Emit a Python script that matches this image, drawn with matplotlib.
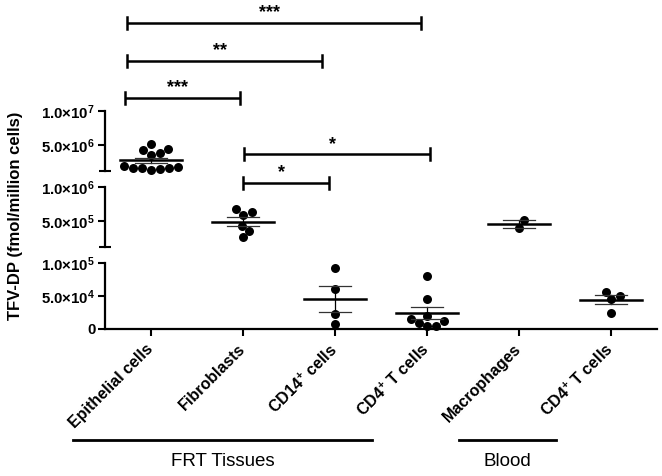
import numpy as np
import matplotlib
matplotlib.use('Agg')
import matplotlib.pyplot as plt
import matplotlib.transforms as mtransforms

plt.rcParams['font.family'] = ['Liberation Sans', 'DejaVu Sans']
plt.rcParams['mathtext.default'] = 'regular'

# ---------------- data ----------------
categories = ['Epithelial cells', 'Fibroblasts', 'CD14$^{+}$ cells',
              'CD4$^{+}$ T cells', 'Macrophages', 'CD4$^{+}$ T cells']
epithelial = [4.4e6, 3.8e6, 3.6e6, 4.2e6, 5.2e6, 1.8e6, 1.7e6, 1.5e6, 1.6e6, 1.4e6, 1.7e6, 1.9e6]
fibroblasts = [6.3e5, 5.85e5, 6.7e5, 4.3e5, 3.55e5, 2.6e5]
cd14_frt = [9.3e4, 6.0e4, 2.2e4, 7.6e3]
cd4_frt = [8.1e4, 4.5e4, 1.97e4, 1.47e4, 1.26e4, 8.6e3, 4.5e3, 5.0e3]
macrophages = [5.1e5, 4.0e5]
cd4_blood = [5.0e4, 4.55e4, 5.65e4, 2.47e4]
groups = [epithelial, fibroblasts, cd14_frt, cd4_frt, macrophages, cd4_blood]

segment_limits = [(1.2e6, 1e7), (1.2e5, 1e6), (0, 1e5)]
segment_ticks = [[5e6, 1e7], [5e5, 1e6], [0, 5e4, 1e5]]
segment_ticklabels = [['5.0×10$^{6}$', '1.0×10$^{7}$'],
                      ['5.0×10$^{5}$', '1.0×10$^{6}$'],
                      ['0', '5.0×10$^{4}$', '1.0×10$^{5}$']]

# significance brackets: (from, to, height in top-axes fraction, label)
brackets = [(-0.26, 2.935, 2.46, '***'),
            (-0.26, 1.86, 1.83, '**'),
            (-0.283, 0.967, 1.216, '***'),
            (1.01, 3.03, 0.277, '*'),
            (1.0, 1.935, -0.194, '*')]
group_labels = ['FRT Tissues', 'Blood']
group_spans = [(-0.848, 2.40), (3.35, 4.40)]
ylabel = 'TFV-DP (fmol/million cells)'

# ---------------- layout ----------------
W, H = 662, 476
fig = plt.figure(figsize=(W / 100, H / 100), dpi=100)
left, right = 105, 657
seg_px = [(110.7, 171.0), (186.7, 246.7), (263.0, 329.0)]
axes = []
for (t, b) in seg_px:
    ax = fig.add_axes([left / W, 1 - b / H, (right - left) / W, (b - t) / H])
    axes.append(ax)

for i, ax in enumerate(axes):
    ax.set_xlim(-0.5, len(categories) - 0.5)
    ax.set_ylim(*segment_limits[i])
    for s in ['top', 'right']:
        ax.spines[s].set_visible(False)
    ax.spines['left'].set_linewidth(1.6)
    ax.set_yticks(segment_ticks[i])
    ax.set_yticklabels(segment_ticklabels[i], fontsize=10.8, fontweight='bold')
    ax.tick_params(axis='y', which='major', length=5, width=1.5, direction='out', pad=2)
    ax.patch.set_alpha(0)
    if i < 2:
        ax.spines['bottom'].set_visible(False)
        ax.set_xticks([])
        ax.set_yticks([segment_limits[i][0]], minor=True)
        ax.tick_params(axis='y', which='minor', length=8, width=1.5, direction='inout')
    else:
        ax.spines['bottom'].set_linewidth(1.6)
        ax.set_xticks(range(len(categories)))
        ax.set_xticklabels(categories, rotation=45, ha='right', va='center',
                           rotation_mode='anchor', fontsize=11.5, fontweight='bold')
        ax.tick_params(axis='x', length=5, width=1.5, direction='out', pad=8)


def seg_of(v):
    for i, (lo, hi) in enumerate(segment_limits):
        if lo <= v <= hi:
            return i
    return int(np.argmin([min(abs(v - lo), abs(v - hi)) for lo, hi in segment_limits]))


def swarm(ypix, d):
    order = np.argsort(ypix)
    placed = []
    offs = np.zeros(len(ypix))
    for i in order:
        y = ypix[i]
        found = None
        step = 0
        while found is None:
            cands = [0.0] if step == 0 else [step * 0.5, -step * 0.5]
            for c in cands:
                if all((c - px) ** 2 + (y - py) ** 2 >= d * d for px, py in placed):
                    found = c
                    break
            step += 1
        offs[i] = found
        placed.append((found, y))
    return offs


diam = 8.8
px_per_unit = (right - left) / len(categories)
for gi, vals in enumerate(groups):
    vals = np.asarray(vals, float)
    segs = [seg_of(v) for v in vals]
    ypix = np.array([axes[s].transData.transform((gi, v))[1] for s, v in zip(segs, vals)])
    offs = swarm(ypix, diam) / px_per_unit
    for s, v, o in zip(segs, vals, offs):
        axes[s].scatter(gi + o, v, s=42, color='black', zorder=3, clip_on=False, linewidths=0)
    m = vals.mean()
    sem = vals.std(ddof=1) / np.sqrt(len(vals))
    ax = axes[seg_of(m)]
    ax.plot([gi - 0.34, gi + 0.34], [m, m], color='black', lw=1.8, zorder=4, clip_on=False)
    ax.plot([gi, gi], [m - sem, m + sem], color='black', lw=0.9, zorder=4, clip_on=False)
    for e in (m - sem, m + sem):
        ax.plot([gi - 0.17, gi + 0.17], [e, e], color='#333333', lw=0.9, zorder=4, clip_on=False)

# brackets
axt = axes[0]
btr = mtransforms.blended_transform_factory(axt.transData, axt.transAxes)
cap = 6 / (seg_px[0][1] - seg_px[0][0])
for x0, x1, y, lab in brackets:
    axt.plot([x0, x1], [y, y], color='black', lw=1.8, transform=btr, clip_on=False,
             solid_capstyle='butt')
    for x in (x0, x1):
        axt.plot([x, x], [y - cap, y + cap], color='black', lw=1.8, transform=btr,
                 clip_on=False)
    axt.annotate(lab, xy=((x0 + x1) / 2 - 0.05, y), xycoords=btr, xytext=(0, 1),
                 textcoords='offset points', ha='center', va='bottom',
                 fontsize=13, fontweight='bold', annotation_clip=False)

# group lines under the x axis
axb = axes[2]
gtr = mtransforms.blended_transform_factory(axb.transData, axb.transAxes)
hb = seg_px[2][1] - seg_px[2][0]
for lab, (x0, x1) in zip(group_labels, group_spans):
    yl = -(440 - seg_px[2][1]) / hb
    axb.plot([x0, x1], [yl, yl], color='black', lw=2.0, transform=gtr, clip_on=False)
    yt = -(462 - seg_px[2][1]) / hb
    axb.text((x0 + x1) / 2, yt, lab, transform=gtr, ha='center', va='center', fontsize=13.5)

fig.text(16 / W, 1 - 216 / H, ylabel, rotation=90, ha='center', va='center',
         fontsize=12, fontweight='bold')

fig.savefig('out.png', dpi=100)
